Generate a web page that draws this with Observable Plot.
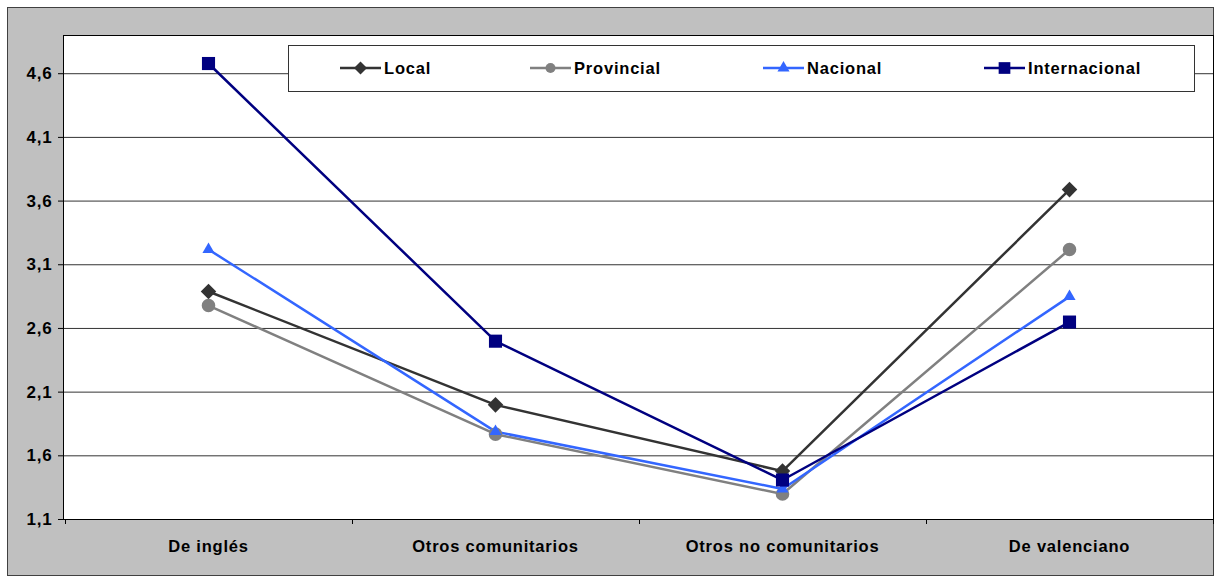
<!DOCTYPE html>
<html>
<head>
<meta charset="utf-8">
<script src="https://cdn.jsdelivr.net/npm/d3@7"></script>
<script src="https://cdn.jsdelivr.net/npm/@observablehq/plot@0.6"></script>
<style>
  body { margin: 0; background: #fff; }
  #chart svg { display: block; }
</style>
</head>
<body>
<div id="chart"></div>
<script>
const categories = ["De inglés", "Otros comunitarios", "Otros no comunitarios", "De valenciano"];
const seriesNames = ["Local", "Provincial", "Nacional", "Internacional"];
const localValues = [2.89, 2.00, 1.48, 3.69];
const provincialValues = [2.78, 1.77, 1.30, 3.22];
const nacionalValues = [3.22, 1.79, 1.34, 2.85];
const internacionalValues = [4.68, 2.50, 1.41, 2.65];
const yTicks = [1.1, 1.6, 2.1, 2.6, 3.1, 3.6, 4.1, 4.6];
const seriesColors = ["#333333", "#808080", "#3366ff", "#000080"];

const diamond = {
  draw(ctx, size) {
    const s = Math.sqrt(size / 2);
    ctx.moveTo(0, -s); ctx.lineTo(s, 0); ctx.lineTo(0, s); ctx.lineTo(-s, 0); ctx.closePath();
  }
};
const seriesSymbols = [diamond, "circle", "triangle", "square"];
const seriesR = [6.2, 6.8, 4.5, 7.4];

const allValues = [localValues, provincialValues, nacionalValues, internacionalValues];
const rows = [];
seriesNames.forEach((s, i) => categories.forEach((c, j) => rows.push({series: s, cat: c, value: allValues[i][j]})));

const fmt = d => d.toFixed(1).replace(".", ",");
const font = "'Liberation Sans', Arial, sans-serif";

const marks = [
  Plot.frame({fill: "white", stroke: "none"}),
  Plot.gridY(yTicks.slice(1), {stroke: "#333", strokeOpacity: 1, strokeWidth: 1}),
  Plot.axisY(yTicks, {tickFormat: fmt, tickSize: 5, tickPadding: 6, fontSize: 17, fontWeight: "bold", label: null}),
  Plot.axisX({tickSize: 0, tickPadding: 21, fontSize: 16.5, fontWeight: "bold", label: null}),
  Plot.frame({stroke: "#000", strokeWidth: 1})
];
seriesNames.forEach((s, i) => {
  const data = rows.filter(d => d.series === s);
  marks.push(Plot.line(data, {x: "cat", y: "value", stroke: seriesColors[i], strokeWidth: 2.5}));
});
seriesNames.forEach((s, i) => {
  const data = rows.filter(d => d.series === s);
  marks.push(Plot.dot(data, {x: "cat", y: "value", symbol: () => seriesSymbols[i], fill: seriesColors[i], stroke: "none", r: seriesR[i]}));
});

const chart = Plot.plot({
  width: 1215,
  height: 577,
  marginLeft: 63,
  marginRight: 2,
  marginTop: 35,
  marginBottom: 58,
  style: {fontFamily: font, letterSpacing: "0.8px", color: "#000", background: "white"},
  x: {type: "point", domain: categories, padding: 0.5},
  y: {domain: [1.1, 4.9]},
  symbol: {type: "identity"},
  marks
});

const svg = d3.select(chart);
// outer gray chart area
svg.insert("rect", ":first-child")
  .attr("x", 7.5).attr("y", 7.5).attr("width", 1206).attr("height", 568)
  .attr("fill", "#c0c0c0").attr("stroke", "#404040").attr("stroke-width", 1);

// category boundary ticks on x axis, from the library's x scale
const xs = chart.scale("x");
const step = xs.apply(categories[1]) - xs.apply(categories[0]);
const yBottom = chart.scale("y").apply(1.1);
const bounds = categories.map(c => xs.apply(c) - step / 2).concat([xs.apply(categories[categories.length - 1]) + step / 2]);
svg.append("g").selectAll("line").data(bounds).join("line")
  .attr("x1", d => Math.round(d) + 0.5).attr("x2", d => Math.round(d) + 0.5)
  .attr("y1", yBottom).attr("y2", yBottom + 5)
  .attr("stroke", "#000");

// legend
const lg = svg.append("g").attr("font-family", font).attr("font-size", 16.5).attr("font-weight", "bold")
  .attr("letter-spacing", "0.8px").attr("text-anchor", "start");
lg.append("rect").attr("x", 288.5).attr("y", 45.5).attr("width", 906).attr("height", 46)
  .attr("fill", "white").attr("stroke", "#333").attr("stroke-width", 1);
const legendX = [340, 530, 763, 984];
const ly = 68;
seriesNames.forEach((s, i) => {
  const x0 = legendX[i];
  const g = lg.append("g");
  g.append("line").attr("x1", x0).attr("x2", x0 + 41).attr("y1", ly).attr("y2", ly)
    .attr("stroke", seriesColors[i]).attr("stroke-width", 2.5);
  const sym = seriesSymbols[i] === diamond ? diamond : seriesSymbols[i] === "circle" ? d3.symbolCircle : seriesSymbols[i] === "triangle" ? d3.symbolTriangle : d3.symbolSquare;
  const r = i === 1 ? 5 : i === 0 ? 5.2 : i === 3 ? 6.6 : seriesR[i];
  g.append("path").attr("d", d3.symbol(sym, Math.PI * r * r)())
    .attr("transform", `translate(${x0 + 20.5},${ly})`).attr("fill", seriesColors[i]);
  g.append("text").attr("x", x0 + 44).attr("y", ly).attr("dy", "0.35em").attr("fill", "#000").text(s);
});

document.getElementById("chart").appendChild(chart);
</script>
</body>
</html>
